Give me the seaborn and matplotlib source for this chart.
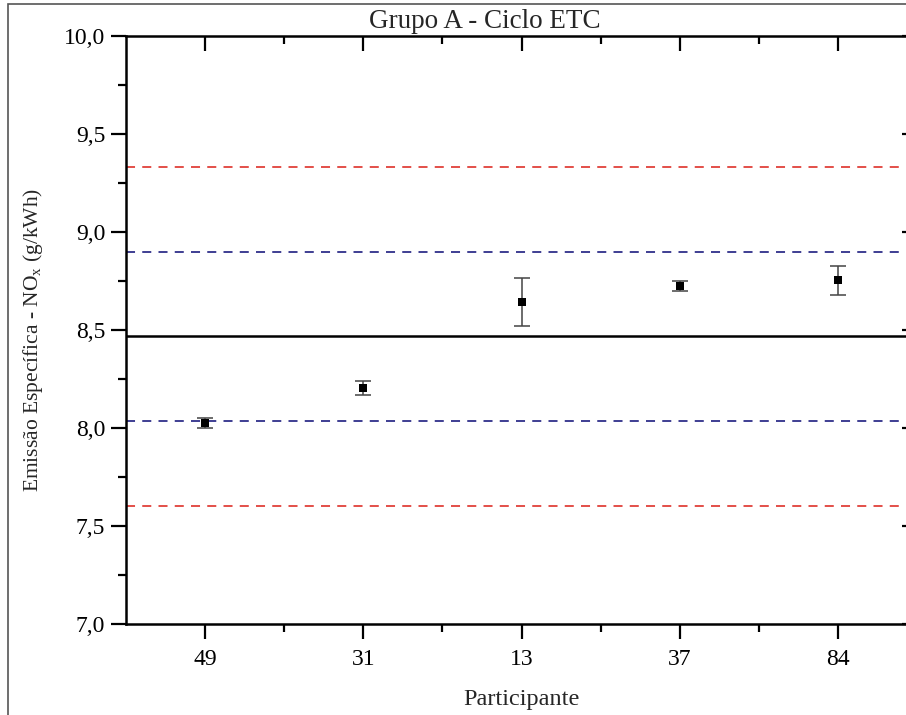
import numpy as np
import pandas as pd
import matplotlib
matplotlib.use("Agg")
import matplotlib.pyplot as plt
from matplotlib.patches import Rectangle
from matplotlib.ticker import MultipleLocator, FixedLocator, FuncFormatter
import seaborn as sns

# ---- data ----
participants = ["49", "31", "13", "37", "84"]
emission = [8.024, 8.202, 8.643, 8.726, 8.753]
error = [0.025, 0.036, 0.123, 0.025, 0.075]
ref_center = 8.467
ref_inner = [8.034, 8.897]
ref_outer = [7.600, 9.333]
title_text = "Grupo A - Ciclo ETC"
xlabel_text = "Participante"
ylabel_text = "Emissão Específica - NO$_\\mathregular{x}$ (g/kWh)"

sns.set_style("white")
plt.rcParams['font.family'] = ['Liberation Serif', 'DejaVu Serif']
plt.rcParams['mathtext.fontset'] = 'custom'
plt.rcParams['mathtext.rm'] = 'Liberation Serif'
plt.rcParams['mathtext.it'] = 'Liberation Serif'

W, H = 906, 715
fig = plt.figure(figsize=(W / 100, H / 100), dpi=100)
fig.patch.set_facecolor("white")
ax = fig.add_axes([126 / W, (H - 624) / H, (917 - 126) / W, (624 - 36) / H])

df = pd.DataFrame({"pos": np.arange(1, len(participants) + 1),
                   "participant": participants,
                   "emission": emission,
                   "error": error})

# reference lines
ax.axhline(ref_center, color="black", lw=1.8, zorder=1)
for v in ref_inner:
    ax.axhline(v, color="#2f2f8a", lw=1.3, ls=(0, (5, 4)), zorder=1)
for v in ref_outer:
    ax.axhline(v, color="#e0413a", lw=1.3, ls=(0, (5, 4)), zorder=1)

ax.errorbar(df["pos"], df["emission"], yerr=df["error"], fmt="none",
            ecolor="#444444", elinewidth=1.1, capsize=6, capthick=1.1, zorder=2)
sns.scatterplot(data=df, x="pos", y="emission", marker="s", s=28,
                color="black", edgecolor="black", linewidth=0, ax=ax, zorder=3)

ax.set_xlim(0.5, 5.5)
ax.set_ylim(7.0, 10.0)
ax.xaxis.set_major_locator(FixedLocator(df["pos"].tolist()))
ax.set_xticklabels(participants)
ax.xaxis.set_minor_locator(FixedLocator(list(np.arange(1.5, 5.0, 1.0))))
ax.yaxis.set_major_locator(MultipleLocator(0.5))
ax.yaxis.set_minor_locator(MultipleLocator(0.25))
ax.yaxis.set_major_formatter(FuncFormatter(lambda v, p: f"{v:.1f}".replace(".", ",")))

for s in ax.spines.values():
    s.set_visible(True)
    s.set_color("black")
    s.set_linewidth(1.8)

ax.tick_params(axis="both", which="major", length=11, width=1.6, labelsize=17,
               colors="black")
ax.tick_params(axis="both", which="minor", length=6, width=1.6, colors="black")
ax.tick_params(axis="x", which="both", bottom=True, top=True, direction="out")
ax.tick_params(axis="y", which="both", left=True, right=True, direction="out")
ax.tick_params(axis="x", which="both", pad=7)
ax.tick_params(axis="y", which="both", pad=4)
# top and right ticks point inward
for t in ax.xaxis.get_major_ticks() + ax.xaxis.get_minor_ticks():
    t.tick2line.set_marker(matplotlib.lines.TICKDOWN)
for t in ax.yaxis.get_major_ticks() + ax.yaxis.get_minor_ticks():
    t.tick2line.set_marker(matplotlib.lines.TICKLEFT)

ax.set_xlabel(xlabel_text, fontsize=17.5, labelpad=14)
ax.set_ylabel(ylabel_text, fontsize=15.5)
ax.yaxis.set_label_coords(-0.103, 0.483)
fig.text(485 / W, 1 - 28 / H, title_text, ha="center", va="baseline", fontsize=19.5)

# outer frame of the picture
fig.patches.append(Rectangle((8 / W, -0.2), 1.2, 1 - 4 / H + 0.2,
                             transform=fig.transFigure, fill=False,
                             edgecolor="#555555", lw=1.2))

fig.savefig("out.png", dpi=100)
